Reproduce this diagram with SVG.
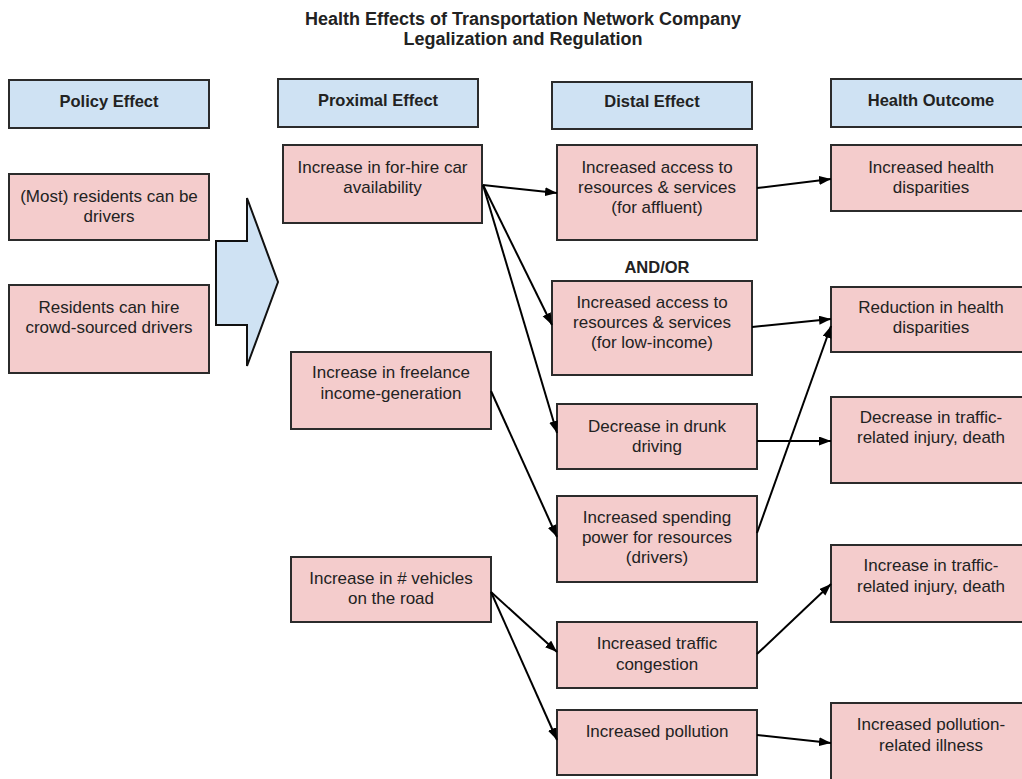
<svg xmlns="http://www.w3.org/2000/svg" width="1022" height="779" viewBox="0 0 1022 779">
<defs>
<style>
.bg{fill:#ffffff}
.hdr{fill:#cfe2f3;stroke:#2b2b2b;stroke-width:2}
.box{fill:#f4cccc;stroke:#2b2b2b;stroke-width:2}
.t{font-family:"Liberation Sans",Arial,sans-serif;font-size:17px;fill:#222;text-anchor:middle}
.h{font-family:"Liberation Sans",Arial,sans-serif;font-size:16.5px;font-weight:bold;fill:#222;text-anchor:middle}
.title{font-family:"Liberation Sans",Arial,sans-serif;font-size:18px;font-weight:bold;fill:#222;text-anchor:middle}
.c{stroke:#000;stroke-width:2;fill:none;marker-end:url(#ah)}
.big{fill:#cfe2f3;stroke:#111;stroke-width:2;stroke-linejoin:miter}
</style>
<marker id="ah" markerUnits="userSpaceOnUse" markerWidth="13" markerHeight="10" refX="12" refY="4.5" orient="auto">
<path d="M0,0 L12,4.5 L0,9 z" fill="#000"/>
</marker>
</defs>
<rect class="bg" x="0" y="0" width="1022" height="779"/>

<g id="title">
<text class="title" x="523" y="25">Health Effects of Transportation Network Company</text>
<text class="title" x="523" y="45">Legalization and Regulation</text>
</g>

<g id="policy-header"><rect class="hdr" x="9" y="80" width="200" height="48"/><text class="h" x="109" y="107">Policy Effect</text></g>
<g id="proximal-header"><rect class="hdr" x="278" y="79" width="200" height="48"/><text class="h" x="378" y="106">Proximal Effect</text></g>
<g id="distal-header"><rect class="hdr" x="552" y="82" width="200" height="47"/><text class="h" x="652" y="107">Distal Effect</text></g>
<g id="outcome-header"><rect class="hdr" x="831" y="79" width="200" height="48"/><text class="h" x="931" y="106">Health Outcome</text></g>

<g id="policy-drivers"><rect class="box" x="9" y="174" width="200" height="66"/><text class="t"><tspan x="109" y="202">(Most) residents can be</tspan><tspan x="109" y="222">drivers</tspan></text></g>
<g id="policy-hire"><rect class="box" x="9" y="285" width="200" height="88"/><text class="t"><tspan x="109" y="313">Residents can hire</tspan><tspan x="109" y="333">crowd-sourced drivers</tspan></text></g>

<g id="policy-arrow"><polygon class="big" points="216,241 247,241 247,198 278,282 247,366 247,325 216,325"/></g>

<g id="prox-forhire"><rect class="box" x="283" y="145" width="199" height="78"/><text class="t"><tspan x="382.5" y="173">Increase in for-hire car</tspan><tspan x="382.5" y="193">availability</tspan></text></g>
<g id="prox-freelance"><rect class="box" x="291" y="352" width="200" height="77"/><text class="t"><tspan x="391" y="378">Increase in freelance</tspan><tspan x="391" y="399">income-generation</tspan></text></g>
<g id="prox-vehicles"><rect class="box" x="291" y="557" width="200" height="65"/><text class="t"><tspan x="391" y="584">Increase in # vehicles</tspan><tspan x="391" y="604">on the road</tspan></text></g>

<g id="dist-affluent"><rect class="box" x="557" y="145" width="200" height="95"/><text class="t"><tspan x="657" y="173">Increased access to</tspan><tspan x="657" y="193">resources &amp; services</tspan><tspan x="657" y="213">(for affluent)</tspan></text></g>
<g id="andor"><text class="h" x="657" y="273">AND/OR</text></g>
<g id="dist-lowincome"><rect class="box" x="552" y="281" width="200" height="94"/><text class="t"><tspan x="652" y="308">Increased access to</tspan><tspan x="652" y="328">resources &amp; services</tspan><tspan x="652" y="348">(for low-income)</tspan></text></g>
<g id="dist-drunk"><rect class="box" x="557" y="404" width="200" height="65"/><text class="t"><tspan x="657" y="432">Decrease in drunk</tspan><tspan x="657" y="452">driving</tspan></text></g>
<g id="dist-spending"><rect class="box" x="557" y="496" width="200" height="86"/><text class="t"><tspan x="657" y="523">Increased spending</tspan><tspan x="657" y="543">power for resources</tspan><tspan x="657" y="563">(drivers)</tspan></text></g>
<g id="dist-congestion"><rect class="box" x="557" y="622" width="200" height="66"/><text class="t"><tspan x="657" y="649">Increased traffic</tspan><tspan x="657" y="670">congestion</tspan></text></g>
<g id="dist-pollution"><rect class="box" x="557" y="710" width="200" height="65"/><text class="t"><tspan x="657" y="737">Increased pollution</tspan></text></g>

<g id="out-increased-disp"><rect class="box" x="831" y="145" width="200" height="66"/><text class="t"><tspan x="931" y="173">Increased health</tspan><tspan x="931" y="193">disparities</tspan></text></g>
<g id="out-reduction-disp"><rect class="box" x="831" y="287" width="200" height="65"/><text class="t"><tspan x="931" y="313">Reduction in health</tspan><tspan x="931" y="333">disparities</tspan></text></g>
<g id="out-decrease-injury"><rect class="box" x="831" y="397" width="200" height="86"/><text class="t"><tspan x="931" y="423">Decrease in traffic-</tspan><tspan x="931" y="443">related injury, death</tspan></text></g>
<g id="out-increase-injury"><rect class="box" x="831" y="545" width="200" height="77"/><text class="t"><tspan x="931" y="571">Increase in traffic-</tspan><tspan x="931" y="592">related injury, death</tspan></text></g>
<g id="out-pollution-illness"><rect class="box" x="831" y="703" width="200" height="80"/><text class="t"><tspan x="931" y="730">Increased pollution-</tspan><tspan x="931" y="751">related illness</tspan></text></g>

<g id="connectors">
<line class="c" x1="483" y1="185" x2="557" y2="193"/>
<line class="c" x1="483" y1="185" x2="552" y2="325"/>
<line class="c" x1="483" y1="185" x2="557" y2="433"/>
<line class="c" x1="491" y1="391" x2="557" y2="537"/>
<line class="c" x1="491" y1="592" x2="557" y2="652"/>
<line class="c" x1="491" y1="592" x2="557" y2="740"/>
<line class="c" x1="757" y1="188" x2="831" y2="179"/>
<line class="c" x1="752" y1="327" x2="831" y2="319"/>
<line class="c" x1="757" y1="533" x2="831" y2="326"/>
<line class="c" x1="757" y1="441" x2="831" y2="441"/>
<line class="c" x1="757" y1="654" x2="831" y2="584"/>
<line class="c" x1="757" y1="735" x2="831" y2="743"/>
</g>
</svg>
